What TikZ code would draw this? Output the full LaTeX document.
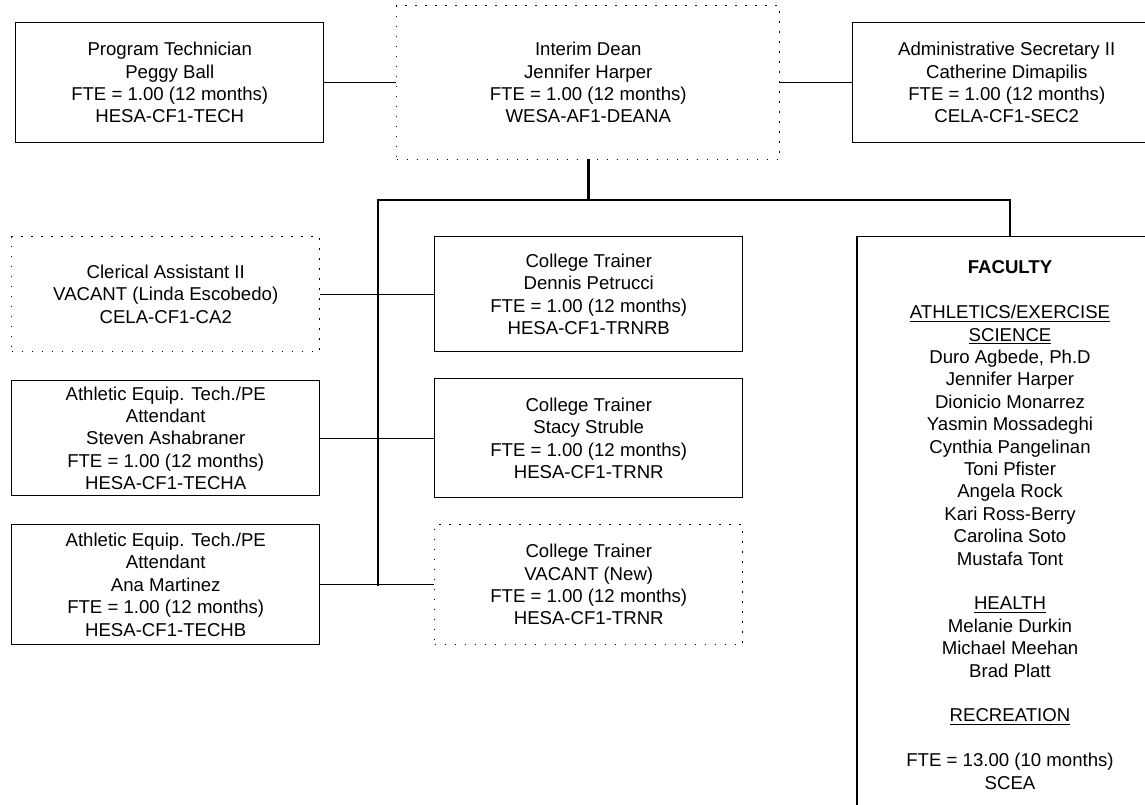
\documentclass[tikz,border=0pt]{standalone}
\usepackage{fontspec}
\setmainfont{Liberation Sans}
% underline drawn as a rule just below the baseline
\newcommand\undl[1]{\setbox0\hbox{#1}\rlap{\rule[-2.4pt]{\wd0}{0.8pt}}\box0}
\tikzset{
  orgtext/.style={align=center, font=\fontsize{13.95}{16.8}\selectfont, inner sep=2pt},
  solidbox/.style={orgtext, draw, line width=1.1pt, anchor=north west},
  dotbox/.style={orgtext, draw, line width=1.1pt, dash pattern=on 1.1pt off 6.4pt, anchor=north west},
  link/.style={line width=0.9pt},
  busline/.style={line width=1.3pt},
  buswide/.style={line width=2pt, line cap=rect},
}
\begin{document}
\begin{tikzpicture}[x=0.75pt,y=-0.75pt]
\useasboundingbox (0,0) rectangle (1145,805);
\clip (0,0) rectangle (1145,805);

% top row
\node[solidbox, minimum width=231pt, minimum height=90pt] (tech) at (15,22)
  {Program Technician\\Peggy Ball\\FTE = 1.00 (12 months)\\HESA-CF1-TECH};
\node[dotbox, minimum width=287.25pt, minimum height=115.5pt] (dean) at (396,5)
  {Interim Dean\\Jennifer Harper\\FTE = 1.00 (12 months)\\WESA-AF1-DEANA};
\node[solidbox, minimum width=231pt, minimum height=90pt] (admin) at (852,22)
  {Administrative Secretary II\\Catherine Dimapilis\\FTE = 1.00 (12 months)\\CELA-CF1-SEC2};

% left column
\node[dotbox, minimum width=231pt, minimum height=86.25pt] (cler) at (11,236)
  {Clerical Assistant II\\VACANT (Linda Escobedo)\\CELA-CF1-CA2};
\node[solidbox, minimum width=231pt, minimum height=86.25pt] (steven) at (11,380)
  {Athletic Equip. Tech./PE\\Attendant\\Steven Ashabraner\\FTE = 1.00 (12 months)\\HESA-CF1-TECHA};
\node[solidbox, minimum width=231pt, minimum height=90pt] (ana) at (11,524)
  {Athletic Equip. Tech./PE\\Attendant\\Ana Martinez\\FTE = 1.00 (12 months)\\HESA-CF1-TECHB};

% trainers
\node[solidbox, minimum width=231pt, minimum height=86.25pt] (den) at (434,236)
  {College Trainer\\Dennis Petrucci\\FTE = 1.00 (12 months)\\HESA-CF1-TRNRB};
\node[solidbox, minimum width=231pt, minimum height=89.25pt] (stacy) at (434,378)
  {College Trainer\\Stacy Struble\\FTE = 1.00 (12 months)\\HESA-CF1-TRNR};
\node[dotbox, minimum width=231pt, minimum height=90pt] (vac) at (434,524)
  {College Trainer\\VACANT (New)\\FTE = 1.00 (12 months)\\HESA-CF1-TRNR};

% faculty (the frame runs on past the lower edge)
\node[orgtext, draw, line width=1.1pt, anchor=north, minimum width=229.5pt,
      inner ysep=18.2pt] (fac) at (1010,236)
  {\textbf{FACULTY}\\[16.8pt]
   \undl{ATHLETICS/EXERCISE}\\
   \undl{SCIENCE}\\
   Duro Agbede, Ph.D\\
   Jennifer Harper\\
   Dionicio Monarrez\\
   Yasmin Mossadeghi\\
   Cynthia Pangelinan\\
   Toni Pfister\\
   Angela Rock\\
   Kari Ross-Berry\\
   Carolina Soto\\
   Mustafa Tont\\[16.8pt]
   \undl{HEALTH}\\
   Melanie Durkin\\
   Michael Meehan\\
   Brad Platt\\[16.8pt]
   \undl{RECREATION}\\[16.8pt]
   FTE = 13.00 (10 months)\\
   SCEA\rule[-30pt]{0pt}{30pt}};

% bus points
\coordinate (busy) at (0,200);
\coordinate (j) at (dean.south |- busy);
\coordinate (bl) at (378,200);
\coordinate (br) at (fac.north |- busy);
\coordinate (bb) at (bl |- ana.east);

% connectors
\draw[link] (tech.east) -- (dean.west);
\draw[link] (dean.east) -- (admin.west);
\draw[buswide] (dean.south) -- (j);
\draw[busline] (bl) -- (br) -- (fac.north);
\draw[buswide] (bl) -- (bb);
\draw[link] (cler.east) -- (den.west);
\draw[link] (steven.east) -- (stacy.west);
\draw[link] (ana.east) -- (vac.west);
\end{tikzpicture}
\end{document}
